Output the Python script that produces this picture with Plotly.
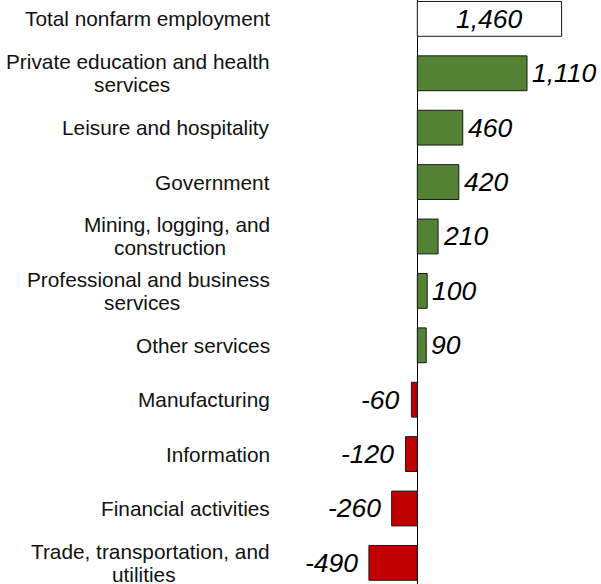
import plotly.graph_objects as go

categories = [
    "Total nonfarm employment",
    "Private education and health<br>services",
    "Leisure and hospitality",
    "Government",
    "Mining, logging, and<br>construction",
    "Professional and business<br>services",
    "Other services",
    "Manufacturing",
    "Information",
    "Financial activities",
    "Trade, transportation, and<br>utilities",
]
values = [1460, 1110, 460, 420, 210, 100, 90, -60, -120, -260, -490]
value_labels = ["1,460", "1,110", "460", "420", "210", "100", "90", "-60", "-120", "-260", "-490"]

GREEN = "#548235"
RED = "#C00000"
FONT = "Arial, Liberation Sans, sans-serif"
CAT_SIZE = 20.8
VAL_SIZE = 26.5
LABEL_RIGHT = 272 / 601

# Arial advance widths (em) for estimating line widths
W = {" ": .278, ",": .278, "-": .333, "a": .556, "b": .556, "c": .5, "d": .556, "e": .556,
     "f": .278, "g": .556, "h": .556, "i": .222, "l": .222, "m": .833, "n": .556, "o": .556,
     "p": .556, "r": .333, "s": .5, "t": .278, "u": .556, "v": .5, "y": .5, "P": .667,
     "M": .833, "T": .611}


def text_width(s, size):
    return sum(W.get(ch, .556) for ch in s) * size


colors = []
for i, v in enumerate(values):
    if i == 0:
        colors.append("white")
    elif v >= 0:
        colors.append(GREEN)
    else:
        colors.append(RED)

fig = go.Figure()
fig.add_trace(go.Bar(
    x=values,
    y=categories,
    orientation="h",
    marker=dict(color=colors, line=dict(color="#1a1a1a", width=1)),
    hoverinfo="skip",
))

cat_font = dict(family=FONT, size=CAT_SIZE, color="#111111")
val_font = dict(family=FONT, size=VAL_SIZE, color="black", style="italic")
annotations = []
for i, (cat, v, lab) in enumerate(zip(categories, values, value_labels)):
    lines = cat.split("<br>")
    if len(lines) == 1:
        annotations.append(dict(
            x=LABEL_RIGHT, xref="paper", y=cat, yref="y", text=cat, showarrow=False,
            xanchor="right", yanchor="middle", font=cat_font,
        ))
    else:
        w1 = text_width(lines[0] + "   ", CAT_SIZE)
        annotations.append(dict(
            x=LABEL_RIGHT, xref="paper", y=cat, yref="y", text=lines[0], showarrow=False,
            xanchor="right", yanchor="middle", yshift=11.5, font=cat_font,
        ))
        annotations.append(dict(
            x=LABEL_RIGHT, xref="paper", y=cat, yref="y", text=lines[1], showarrow=False,
            xanchor="center", yanchor="middle", yshift=-11.5, xshift=-w1 / 2, font=cat_font,
        ))
    if i == 0:
        annotations.append(dict(
            x=v / 2, xref="x", y=cat, yref="y", text=lab, showarrow=False,
            xanchor="center", yanchor="middle", font=val_font,
        ))
    elif v >= 0:
        annotations.append(dict(
            x=v, xref="x", y=cat, yref="y", text=lab, showarrow=False,
            xanchor="left", yanchor="middle", xshift=3, font=val_font,
        ))
    else:
        annotations.append(dict(
            x=v, xref="x", y=cat, yref="y", text=lab, showarrow=False,
            xanchor="right", yanchor="middle", xshift=-9, font=val_font,
        ))

fig.update_layout(
    width=601, height=584,
    margin=dict(l=0, r=0, t=0, b=0),
    paper_bgcolor="white", plot_bgcolor="white",
    showlegend=False,
    bargap=0.36,
    annotations=annotations,
    xaxis=dict(range=[-4224, 1859], showgrid=False, showticklabels=False,
               zeroline=True, zerolinecolor="black", zerolinewidth=1.3,
               fixedrange=True),
    yaxis=dict(categoryorder="array", categoryarray=categories,
               range=[10.388, -0.347], showgrid=False, showticklabels=False,
               zeroline=False, fixedrange=True),
)

fig.write_html(
    "out.html",
    config={"displayModeBar": False},
    post_script="document.documentElement.style.margin='0';document.body.style.margin='0';document.body.style.overflow='hidden';",
)
